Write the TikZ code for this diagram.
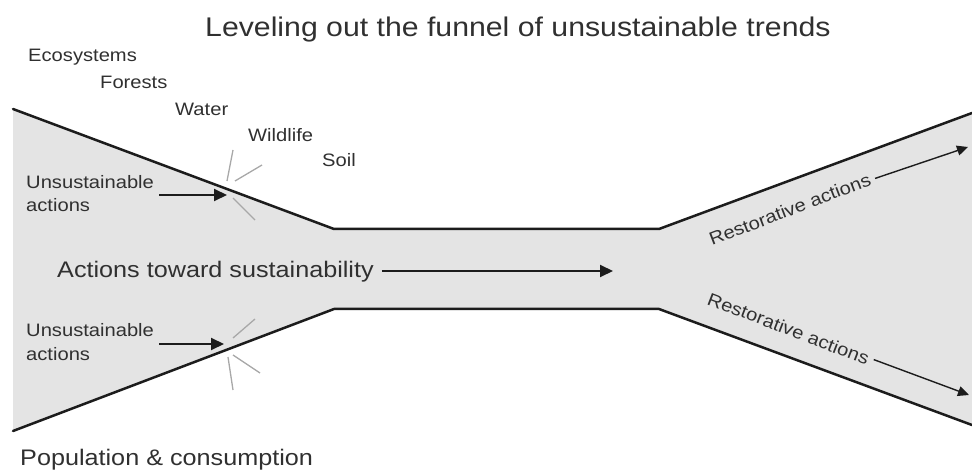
\documentclass[tikz,border=0pt]{standalone}
\usepackage{fontspec}
\setmainfont[FakeStretch=1.12]{Liberation Sans}
\usetikzlibrary{arrows.meta}
\definecolor{funnelgrey}{HTML}{E4E4E4}
\definecolor{inkline}{HTML}{1C1C1C}
\definecolor{inktext}{HTML}{303030}
\definecolor{burst}{HTML}{A8A8A8}
\tikzset{
  edge/.style={draw=inkline, line width=2.5pt, line join=round, line cap=round},
  lbl/.style={inner sep=0pt, text=inktext, font=\fontsize{18}{23}\selectfont},
  midlbl/.style={inner sep=0pt, text=inktext, font=\fontsize{22.5}{27}\selectfont},
  ttl/.style={inner sep=0pt, text=inktext, font=\fontsize{27}{32}\selectfont},
  flow/.style={draw=inkline, line width=2pt, -{Triangle[length=13pt,width=12pt]}},
  flowsmall/.style={draw=inkline, line width=1.4pt, -{Triangle[length=11pt,width=10pt]}},
  ray/.style={draw=burst, line width=1.3pt}
}
\begin{document}
\begin{tikzpicture}[x=1pt,y=-1pt]
\useasboundingbox (0,0) rectangle (972,470);
% funnel body
\coordinate (tl) at (13,109);
\coordinate (tm1) at (334,229);
\coordinate (tm2) at (659,229);
\coordinate (tr) at (972,113);
\coordinate (br) at (972,425);
\coordinate (bm2) at (659,309);
\coordinate (bm1) at (334,309);
\coordinate (bl) at (13,431);
\fill[funnelgrey] (tl) -- (tm1) -- (tm2) -- (tr) -- (br) -- (bm2) -- (bm1) -- (bl) -- cycle;
\draw[edge] (tl) -- (tm1) -- (tm2) -- (tr);
\draw[edge] (bl) -- (bm1) -- (bm2) -- (br);

% title and labels
\node[ttl, anchor=base west] (title) at (205,37) {Leveling out the funnel of unsustainable trends};
\node[lbl, anchor=base west] (eco) at (28,62) {Ecosystems};
\node[lbl, anchor=base west] (for) at (100,89) {Forests};
\node[lbl, anchor=base west] (wat) at (175,116) {Water};
\node[lbl, anchor=base west] (wil) at (248,142) {Wildlife};
\node[lbl, anchor=base west] (soi) at (322,167) {Soil};

\node[lbl, anchor=base west] (u1a) at (26,189) {Unsustainable};
\node[lbl, anchor=base west] (u1b) at (26,212) {actions};
\node[lbl, anchor=base west] (u2a) at (26,337) {Unsustainable};
\node[lbl, anchor=base west] (u2b) at (26,360) {actions};

\node[midlbl, anchor=base west] (sust) at (57,278) {Actions toward sustainability};
\node[midlbl, anchor=base west] (pop) at (20,465) {Population \& consumption};

\node[lbl, anchor=base west, rotate=21] (r1) at (712,246) {Restorative actions};
\node[lbl, anchor=base west, rotate=-21] (r2) at (706,304) {Restorative actions};

% arrows
\coordinate (hit1) at (227,195);
\coordinate (hit2) at (224,344);
\coordinate (sustend) at (613,271);
\coordinate (r1end) at (968,147);
\coordinate (r2end) at (969,395);
\draw[flow] ([xshift=5pt]u1a.south east |- hit1) -- (hit1);
\draw[flow] ([xshift=5pt]u2a.south east |- hit2) -- (hit2);
\draw[flow] ([xshift=8pt]sust.east |- sustend) -- (sustend);
\draw[flowsmall] ([shift={(5pt,0pt)}]r1.east) -- (r1end);
\draw[flowsmall] ([shift={(5pt,0pt)}]r2.east) -- (r2end);

% starbursts
\draw[ray] (227,181) -- (233,150);
\draw[ray] (235,181) -- (262,165);
\draw[ray] (233,198) -- (255,220);
\draw[ray] (233,338) -- (255,319);
\draw[ray] (228,357) -- (233,390);
\draw[ray] (233,355) -- (260,373);
\end{tikzpicture}
\end{document}
